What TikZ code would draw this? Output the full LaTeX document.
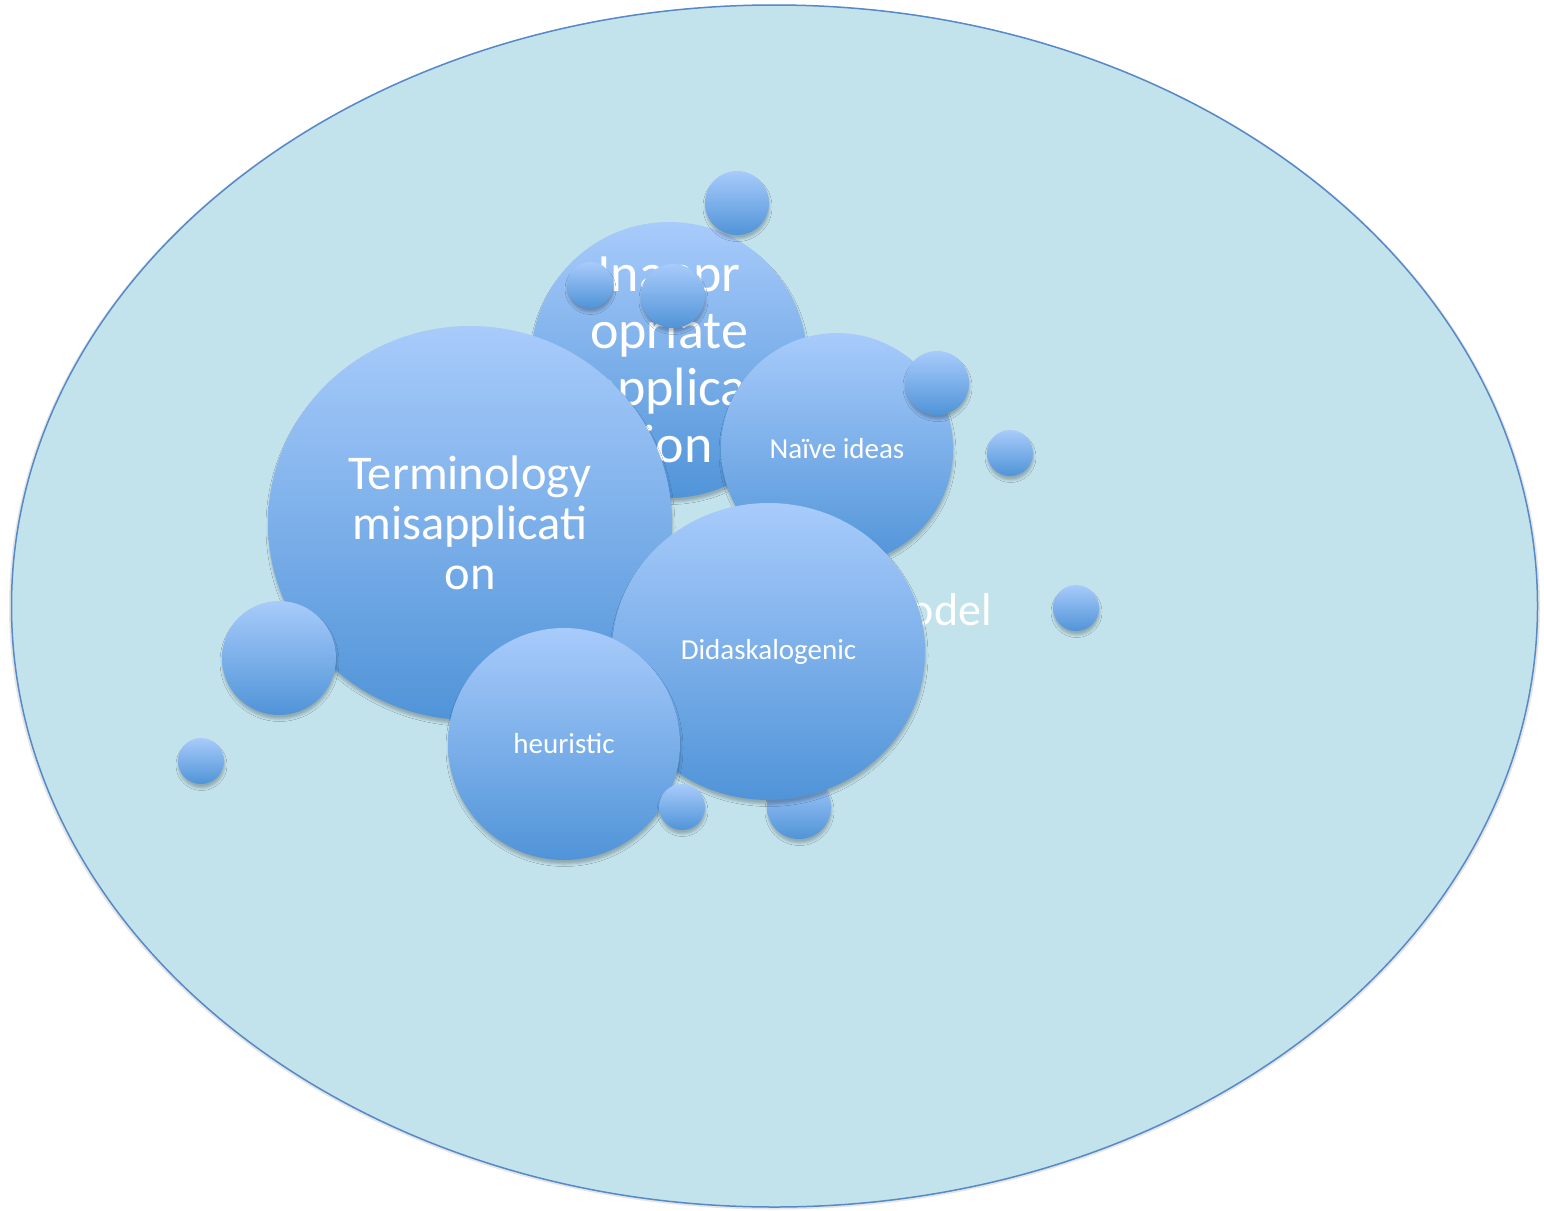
\documentclass[tikz,border=0pt]{standalone}
\usepackage{fontspec}
\setmainfont{Carlito}
\usetikzlibrary{shadows.blur,shapes.geometric}

\definecolor{fieldfill}{RGB}{195,227,236}
\definecolor{fieldline}{RGB}{86,137,200}
\definecolor{bubtop}{RGB}{168,203,251}
\definecolor{bubbot}{RGB}{80,148,216}

\begin{document}
\begin{tikzpicture}[x=1pt,y=-1pt,
  bubble/.style={circle, inner sep=0pt, draw=none,
    top color=bubtop, bottom color=bubbot,
    text=white, align=center,
    blur shadow={shadow xshift=0.5pt, shadow yshift=-4pt,
      shadow blur radius=2.5pt, shadow opacity=25}},
  oval/.style={bubble, ellipse},
  bigtxt/.style={font=\fontsize{48.5}{50}\selectfont},
  hugetxt/.style={font=\fontsize{54}{57}\selectfont},
  smalltxt/.style={font=\fontsize{29}{32}\selectfont},
]
\useasboundingbox (0,0) rectangle (1544,1210);
\fill[white] (0,0) rectangle (1544,1210);

% outer field with a faint halo
\fill[black, opacity=0.10] (774.5,607) ellipse [x radius=765.5, y radius=602.5];
\filldraw[fill=fieldfill, draw=fieldline, line width=1.5pt]
  (774.5,606) ellipse [x radius=763, y radius=601];

% label of the field, partly covered by the bubbles
\node[anchor=base east, inner sep=0pt, text=white,
      font=\fontsize{46}{50}\selectfont] (modeltxt) at (992,625) {Model};

% back bubble and its covering droplets
\node[bubble, hugetxt, minimum size=276pt] (inapp) at (669,360)
  {Inappr\\opriate\\applica\\tion};
\node[bubble, minimum size=46pt] (s2) at (590,285) {};
\node[bubble, minimum size=64pt] (s3) at (673,296) {};
\node[bubble, minimum size=64pt] (s1) at (737,203) {};

% main bubbles
\node[oval, bigtxt, minimum width=404pt, minimum height=394pt] (term) at (470,523)
  {Terminology\\misapplicati\\on};
\node[bubble, smalltxt, minimum size=232pt] (naive) at (837,449)
  {Naïve ideas};
\node[bubble, minimum size=64pt] (s4) at (937,383) {};
\node[bubble, minimum size=64pt] (s10) at (799,807) {};
\node[oval, smalltxt, minimum width=313pt, minimum height=297pt] (didask) at (768.5,651.5)
  {Didaskalogenic};
\node[bubble, smalltxt, minimum size=232pt] (heur) at (564,744)
  {heuristic};

% loose droplets
\node[bubble, minimum size=46pt] (s9) at (682,807) {};
\node[bubble, minimum size=114pt] (s7) at (279,658) {};
\node[bubble, minimum size=46pt] (s8) at (201,761) {};
\node[bubble, minimum size=46pt] (s5) at (1010,453) {};
\node[bubble, minimum size=46pt] (s6) at (1076,608) {};
\end{tikzpicture}
\end{document}
